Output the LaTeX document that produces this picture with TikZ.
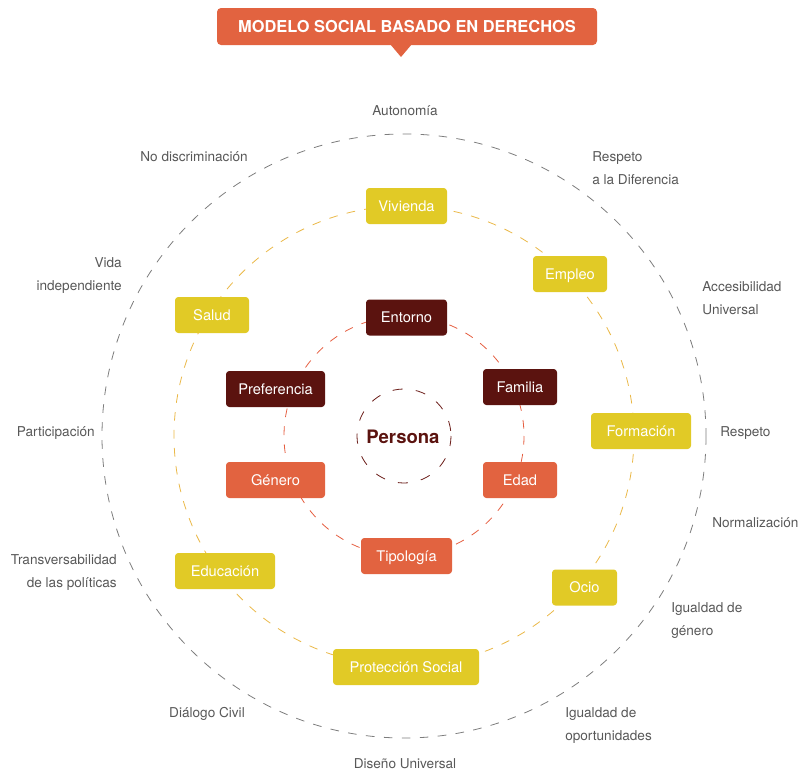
\documentclass[tikz,border=0pt]{standalone}
\usepackage{fontspec}
\setmainfont{TeX Gyre Heros}
\usetikzlibrary{positioning}

\definecolor{tituloColor}{RGB}{226,99,64}
\definecolor{amarilloCaja}{RGB}{225,202,38}
\definecolor{granateCaja}{RGB}{91,19,15}
\definecolor{naranjaCaja}{RGB}{226,99,64}
\definecolor{grisTexto}{RGB}{88,88,88}
\definecolor{grisLinea}{RGB}{125,125,125}
\definecolor{amarilloLinea}{RGB}{234,184,72}
\definecolor{rojoLinea}{RGB}{229,94,64}
\definecolor{granateLinea}{RGB}{108,30,26}

\tikzset{
  caja/.style={rounded corners=2.5pt, text=white, inner sep=0pt, minimum height=27pt,
    text height=7.9pt, text depth=0pt, font=\fontsize{11}{12}\selectfont},
  cajaAmarilla/.style={caja, fill=amarilloCaja},
  cajaGranate/.style={caja, fill=granateCaja},
  cajaNaranja/.style={caja, fill=naranjaCaja},
  etiqueta/.style={text=grisTexto, inner sep=0pt, font=\fontsize{10.2}{17.25}\selectfont},
  anillo/.style={line width=0.6pt, dash pattern=on 6.5pt off 7pt}
}

\begin{document}
\begin{tikzpicture}[x=0.75pt,y=0.75pt,yscale=-1,xscale=1]
        \path[use as bounding box] (0,0) rectangle (801,771);

        %Shape: Title [id:titulo]
        \fill [tituloColor] (390,44) -- (401,57) -- (412,44) -- cycle ;
        \node (titulo) [fill=tituloColor, rounded corners=3pt, text=white, inner sep=0pt,
          minimum width=285pt, minimum height=27.75pt, font=\fontsize{12.3}{14}\bfseries]
          at (407,26.5) {MODELO SOCIAL BASADO EN DERECHOS};

        %Shape: Circles [id:anillos]
        \draw [anillo, grisLinea] (404,436) circle [radius=302] ;
        \draw [anillo, amarilloLinea] (404,436) circle [radius=230] ;
        \draw [anillo, rojoLinea] (404,436) circle [radius=120] ;
        \draw [anillo, granateLinea, dash pattern=on 7.5pt off 10pt] (404,436) circle [radius=47] ;

        % Text Node
        \node (persona) [text=granateCaja, font=\fontsize{13.9}{16}\bfseries] at (403,437) {Persona};

        % Boxes: red ring
        \node (entorno) [cajaGranate, minimum width=60.75pt] at (406.5,317.5) {Entorno};
        \node (preferencia) [cajaGranate, minimum width=74.25pt] at (275.5,389) {Preferencia};
        \node (familia) [cajaGranate, minimum width=55.5pt] at (520,387) {Familia};
        \node (genero) [cajaNaranja, minimum width=74.25pt] at (275.5,480) {Género};
        \node (edad) [cajaNaranja, minimum width=55.5pt] at (520,480) {Edad};
        \node (tipologia) [cajaNaranja, minimum width=68.25pt] at (406.5,556) {Tipología};

        % Boxes: yellow ring
        \node (vivienda) [cajaAmarilla, minimum width=60.75pt] at (406.5,206) {Vivienda};
        \node (empleo) [cajaAmarilla, minimum width=55.5pt] at (570,274) {Empleo};
        \node (salud) [cajaAmarilla, minimum width=55.5pt] at (212,315) {Salud};
        \node (formacion) [cajaAmarilla, minimum width=75pt] at (641,431) {Formación};
        \node (educacion) [cajaAmarilla, minimum width=75pt] at (225,571) {Educación};
        \node (ocio) [cajaAmarilla, minimum width=48.75pt] at (584.5,587.5) {Ocio};
        \node (proteccion) [cajaAmarilla, minimum width=109.5pt] at (406,667) {Protección Social};

        % Text Node: outer ring
        \node (autonomia) [etiqueta] at (405,111) {Autonomía};
        \node (noDiscriminacion) [etiqueta] at (194,157) {No discriminación};
        \node (respetoDiferencia) [etiqueta, anchor=west, align=left] at (592,168.5) {Respeto\\a la Diferencia};
        \node (vidaIndependiente) [etiqueta, anchor=east, align=right] at (122,275.5) {Vida\\independiente};
        \node (accesibilidad) [etiqueta, anchor=west, align=left] at (702,298.5) {Accesibilidad\\Universal};
        \node (participacion) [etiqueta, anchor=east] at (95,433) {Participación};
        \node (respeto) [etiqueta, anchor=west] at (720,433) {Respeto};
        \node (normalizacion) [etiqueta, anchor=west] at (712,523) {Normalización};
        \node (transversabilidad) [etiqueta, anchor=east, align=right] at (117,572.5) {Transversabilidad\\de las políticas};
        \node (igualdadGenero) [etiqueta, anchor=west, align=left] at (671,620.5) {Igualdad de\\género};
        \node (dialogo) [etiqueta] at (207,714) {Diálogo Civil};
        \node (igualdadOportunidades) [etiqueta, anchor=west, align=left] at (565,725.5) {Igualdad de\\oportunidades};
        \node (disenoUniversal) [etiqueta] at (405,763.5) {Diseño Universal};
    \end{tikzpicture}
\end{document}
